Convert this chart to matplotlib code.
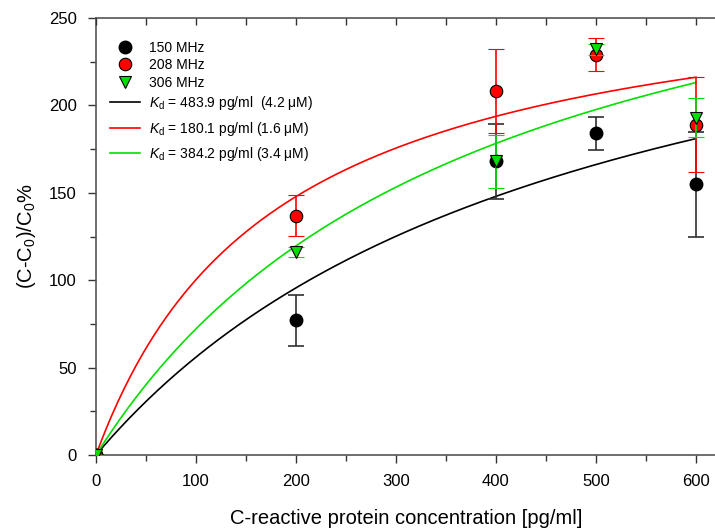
import numpy as np
import matplotlib.pyplot as plt
from matplotlib.lines import Line2D

plt.rcParams['font.family'] = ['Liberation Sans', 'DejaVu Sans']
plt.rcParams['mathtext.fontset'] = 'custom'
plt.rcParams['mathtext.rm'] = 'Liberation Sans'
plt.rcParams['mathtext.it'] = 'Liberation Sans:italic'

# concentrations [pg/ml]
conc = [0, 200, 400, 500, 600]

# 150 MHz
y150 = [0, 77, 168, 184, 155]
e150 = [0, 14.5, 21.5, 9.5, 30]
# 208 MHz
y208 = [0, 137, 208, 229, 189]
e208 = [0, 11.5, 24, 9.5, 27]
# 306 MHz
y306 = [0, 116, 168, 232, 193]
e306 = [0, 3, 15, 3, 11]

# fitted binding curves: Kd from legend, Bmax
kd_vals = [483.9, 180.1, 384.2]
bmax_vals = [327, 281, 349.5]
fit_colors = ['black', '#ff0000', '#00e000']
fit_labels = [r'$\mathit{K}_\mathrm{d}$ = 483.9 pg/ml  (4.2 $\mathrm{\mu}$M)',
              r'$\mathit{K}_\mathrm{d}$ = 180.1 pg/ml (1.6 $\mathrm{\mu}$M)',
              r'$\mathit{K}_\mathrm{d}$ = 384.2 pg/ml (3.4 $\mathrm{\mu}$M)']

fig = plt.figure(figsize=(7.15, 5.28), dpi=100)
ax = fig.add_axes([96 / 715, 73 / 528, 620 / 715, 437 / 528])

xs = np.linspace(0, 600, 300)
for kd, bmax, col in zip(kd_vals, bmax_vals, fit_colors):
    ax.plot(xs, bmax * xs / (kd + xs), color=col, lw=1.2, zorder=2)

ax.errorbar(conc, y150, yerr=e150, fmt='o', color='black', ms=9, mfc='black',
            mec='black', ecolor='#303030', elinewidth=1.2, capsize=6, capthick=1.2, zorder=3)
ax.errorbar(conc, y208, yerr=e208, fmt='o', color='#ff0000', ms=9, mfc='#ff0000',
            mec='black', mew=0.8, ecolor='#ff0000', elinewidth=1.2, capsize=6, capthick=1.2, zorder=4)
ax.errorbar(conc, y306, yerr=e306, fmt='v', color='#00e000', ms=8, mfc='#00e000',
            mec='black', mew=0.8, ecolor='#00e000', elinewidth=1.2, capsize=6, capthick=1.2, zorder=5)

ax.set_xlim(0, 620)
ax.set_ylim(0, 250)
ax.set_xticks([0, 100, 200, 300, 400, 500, 600])
ax.set_xticks(np.arange(50, 620, 100), minor=True)
ax.set_yticks(np.arange(0, 251, 50))
ax.set_yticks(np.arange(25, 250, 50), minor=True)
ax.tick_params(axis='both', which='both', direction='out', labelsize=12, colors='#333333',
               labelcolor='black', width=1)
ax.tick_params(which='major', length=6)
ax.tick_params(which='minor', length=4)
ax.tick_params(axis='x', which='major', pad=8)
ax.tick_params(axis='y', which='major', pad=8)
for s in ax.spines.values():
    s.set_color('#555555')
    s.set_linewidth(1.2)
ax.spines['right'].set_visible(False)

# inward ticks on the top frame
top = ax.twiny()
top.set_xlim(ax.get_xlim())
top.set_xticks(np.arange(0, 620, 50))
top.tick_params(axis='x', direction='in', length=5, labeltop=False, colors='#333333', width=1)
for s in top.spines.values():
    s.set_visible(False)

ax.set_xlabel('C-reactive protein concentration [pg/ml]', fontsize=14.5, labelpad=14)
ax.set_ylabel(r'(C-C$_\mathrm{0}$)/C$_\mathrm{0}$%', fontsize=14.5, labelpad=8)

marker_handles = [
    Line2D([], [], ls='none', marker='o', ms=9, mfc='black', mec='black'),
    Line2D([], [], ls='none', marker='o', ms=9, mfc='#ff0000', mec='black', mew=0.8),
    Line2D([], [], ls='none', marker='v', ms=8, mfc='#00e000', mec='black', mew=0.8),
]
marker_labels = ['150 MHz', '208 MHz', '306 MHz']
line_handles = [Line2D([], [], color=col, lw=1.2) for col in fit_colors]

leg1 = top.legend(marker_handles, marker_labels, loc='upper left', frameon=False, fontsize=10,
                  handlelength=2.2, handletextpad=0.6, labelspacing=0.25,
                  bbox_to_anchor=(0.0, 0.98), borderaxespad=0.6)
top.add_artist(leg1)
top.legend(line_handles, fit_labels, loc='upper left', frameon=False, fontsize=10,
           handlelength=2.2, handletextpad=0.6, labelspacing=0.55,
           bbox_to_anchor=(0.0, 0.858), borderaxespad=0.6)

fig.savefig('out.png', dpi=100)
